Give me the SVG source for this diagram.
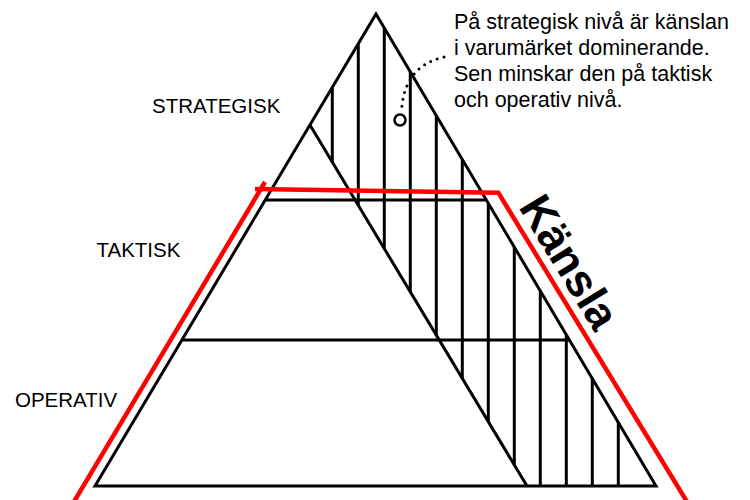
<svg xmlns="http://www.w3.org/2000/svg" width="750" height="500" viewBox="0 0 750 500">
  <style>
    .blk { stroke: #000; stroke-width: 3; fill: none; stroke-linecap: butt; }
    .red { stroke: #ff0000; stroke-width: 4.5; fill: none; stroke-linejoin: miter; }
    .lbl { font-family: "Liberation Sans", Arial, sans-serif; font-size: 20.5px; fill: #000; }
    .note { font-family: "Liberation Sans", Arial, sans-serif; font-size: 21.5px; fill: #000; }
    .big { font-family: "Liberation Sans", Arial, sans-serif; font-size: 45px; font-weight: bold; fill: #000; }
  </style>
  <rect width="750" height="500" fill="#fff"/>

  <g id="pyramid">
    <polygon class="blk" points="376,14 656,486 95,486" stroke-linejoin="miter"/>
    <line class="blk" x1="265.5" y1="200" x2="486.5" y2="200"/>
    <line class="blk" x1="182" y1="340" x2="570" y2="340"/>
    <line class="blk" x1="310" y1="125" x2="527" y2="486"/>
  </g>

  <g id="hatch">
    <line class="blk" x1="332.3" y1="87.5" x2="332.3" y2="162.1"/>
    <line class="blk" x1="358.3" y1="43.8" x2="358.3" y2="205.4"/>
    <line class="blk" x1="384.3" y1="28" x2="384.3" y2="248.6"/>
    <line class="blk" x1="410.3" y1="71.7" x2="410.3" y2="291.9"/>
    <line class="blk" x1="436.3" y1="115.5" x2="436.3" y2="335.2"/>
    <line class="blk" x1="462.3" y1="159.2" x2="462.3" y2="378.4"/>
    <line class="blk" x1="488.3" y1="203" x2="488.3" y2="421.7"/>
    <line class="blk" x1="514.3" y1="246.7" x2="514.3" y2="464.9"/>
    <line class="blk" x1="540.3" y1="290.5" x2="540.3" y2="486"/>
    <line class="blk" x1="566.3" y1="334.2" x2="566.3" y2="486"/>
    <line class="blk" x1="592.3" y1="378" x2="592.3" y2="486"/>
    <line class="blk" x1="618.3" y1="421.7" x2="618.3" y2="486"/>
  </g>

  <g id="kansla-outline">
    <line class="red" x1="265" y1="182" x2="72" y2="505"/>
    <polyline class="red" points="255,189 498.3,192.7 689,505"/>
  </g>

  <g id="labels">
    <text class="lbl" x="152" y="112.5">STRATEGISK</text>
    <text class="lbl" x="96.5" y="256.5">TAKTISK</text>
    <text class="lbl" x="15" y="406.5">OPERATIV</text>
    <text class="big" transform="translate(518,207) rotate(58.6)">Känsla</text>
  </g>

  <g id="note">
    <text class="note" x="454" y="29">På strategisk nivå är känslan</text>
    <text class="note" x="454" y="55">i varumärket dominerande.</text>
    <text class="note" x="454" y="81">Sen minskar den på taktisk</text>
    <text class="note" x="454" y="107">och operativ nivå.</text>
  </g>

  <g id="connectors">
    <path d="M 444,57 Q 404,66 401.5,111" fill="none" stroke="#000" stroke-width="3" stroke-linecap="round" stroke-dasharray="0 7"/>
    <circle cx="400" cy="120" r="5.5" fill="#fff" stroke="#000" stroke-width="2.5"/>
  </g>
</svg>
